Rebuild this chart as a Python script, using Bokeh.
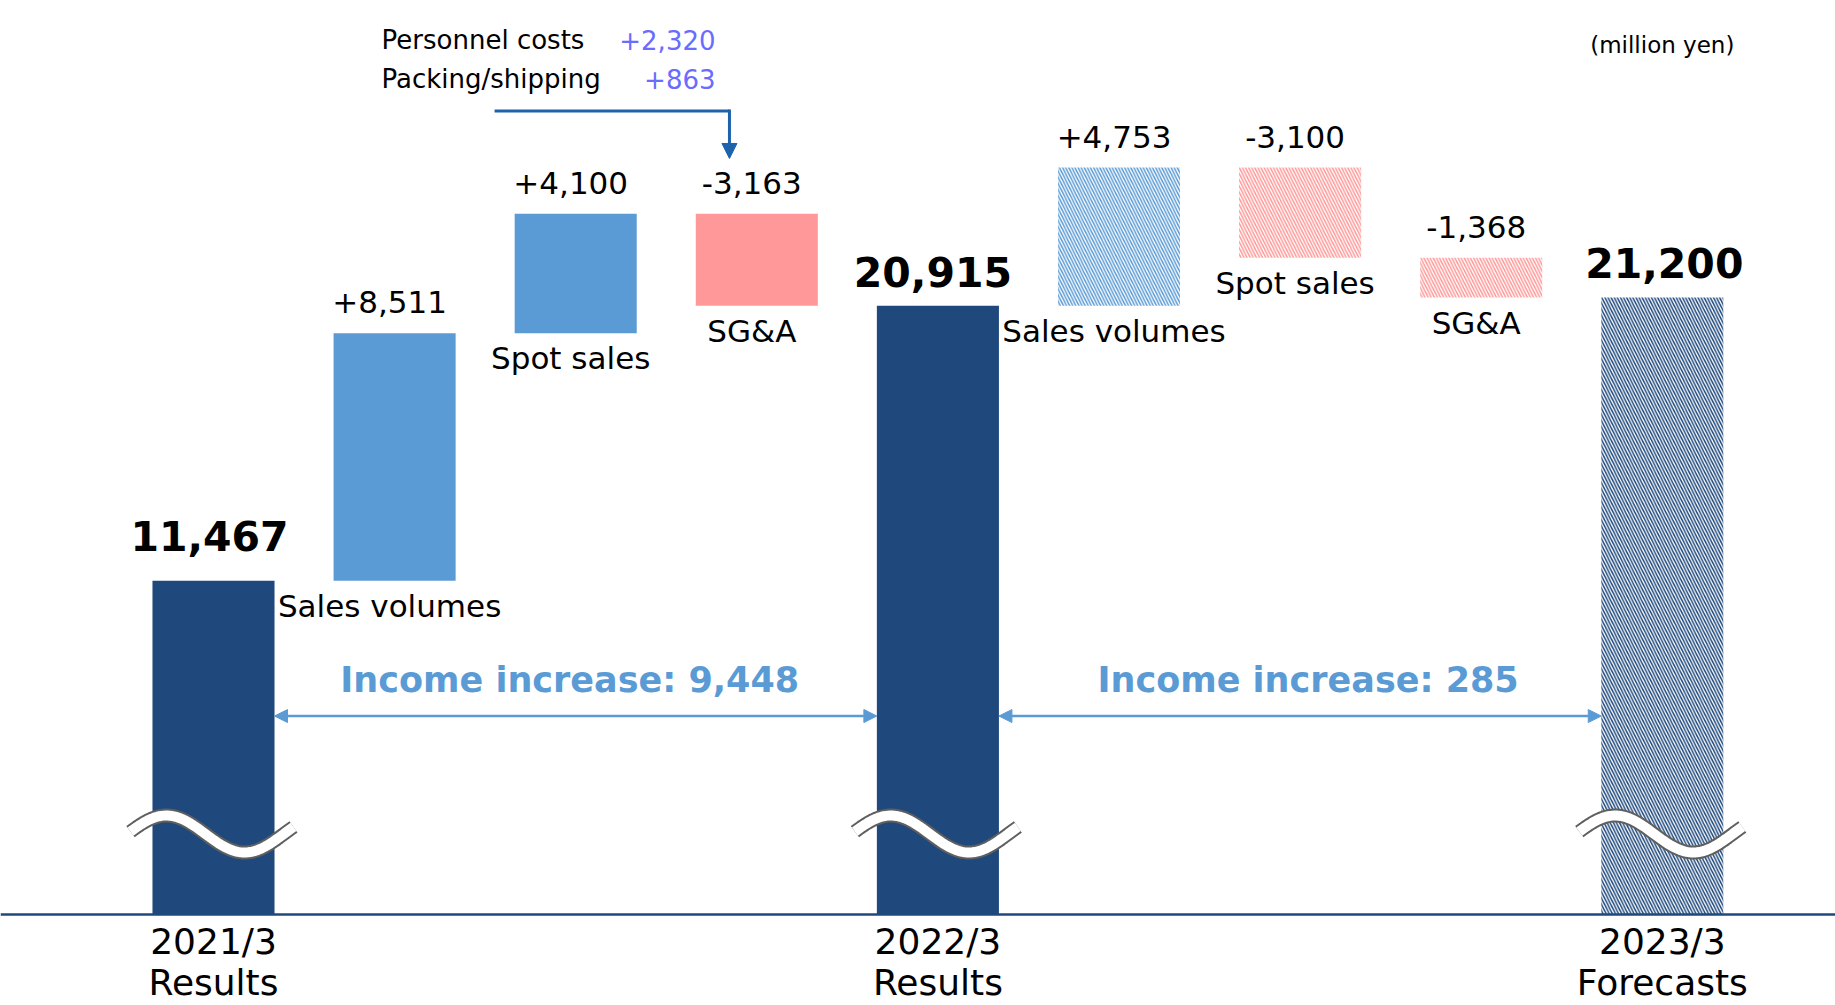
import numpy as np
from bokeh.plotting import figure
from bokeh.models import ColumnDataSource, Range1d, Arrow, NormalHead, Span
from bokeh.embed import file_html
from bokeh.resources import INLINE
from bokeh.core.properties import value

# ---------------- data ----------------
period_years = ["2021/3", "2022/3", "2023/3"]
period_kinds = ["Results", "Results", "Forecasts"]
total_values = [11467, 20915, 21200]
delta_names = ["Sales volumes", "Spot sales", "SG&A", "Sales volumes", "Spot sales", "SG&A"]
delta_values = [8511, 4100, -3163, 4753, -3100, -1368]
sga_items = ["Personnel costs", "Packing/shipping"]
sga_values = [2320, 863]
unit_label = "(million yen)"

# ---------------- styles ----------------
NAVY = "#1F497D"
BLUE = "#5B9BD5"
PINK = "#FF9999"
FONT = value("DejaVu Sans")

# ---------------- waterfall build ----------------
seq = [("T", 0), ("D", 0), ("D", 1), ("D", 2), ("T", 1), ("D", 3), ("D", 4), ("D", 5), ("T", 2)]
rows = []
running = 0
for i, (k, j) in enumerate(seq):
    if k == "T":
        running = total_values[j]
        rows.append(dict(x=i, bottom=0, top=total_values[j], color=NAVY, kind="T", j=j))
    else:
        v = delta_values[j]
        start = running
        running += v
        color = BLUE if v > 0 else PINK
        rows.append(dict(x=i, bottom=min(start, running), top=max(start, running), color=color, kind="D", j=j))

forecast_start = 5  # bars from this index on are plans (hatched)


def src(filter_fn):
    sel = [r for r in rows if filter_fn(r)]
    return ColumnDataSource(dict(
        x=[r["x"] for r in sel], bottom=[r["bottom"] for r in sel],
        top=[r["top"] for r in sel], color=[r["color"] for r in sel]))


W, H = 1835, 1005
PX = 0.0291      # px per unit
Y0 = 914.0       # page y of value 0
XS = 181.1       # px per category step
X0 = 213.0       # page x of first category
y_lo = (Y0 - H) / PX
y_hi = Y0 / PX

p = figure(width=W, height=H, x_range=Range1d(-X0 / XS, (W - X0) / XS), y_range=Range1d(y_lo, y_hi),
           output_backend="svg", toolbar_location=None, min_border=0,
           x_axis_location=None, y_axis_location=None, outline_line_color=None,
           background_fill_color="white", border_fill_color="white")
p.grid.visible = False

BW = 0.674
p.vbar(x="x", bottom="bottom", top="top", width=BW, fill_color="color", line_color=None,
       source=src(lambda r: r["x"] < forecast_start))
p.vbar(x="x", bottom="bottom", top="top", width=BW, fill_color="white", line_color=None,
       hatch_color="color", hatch_pattern="\\", hatch_scale=6.2, hatch_weight=1.5,
       source=src(lambda r: r["x"] >= forecast_start))

p.add_layout(Span(location=0, dimension="width", line_color=NAVY, line_width=2.5))

# break marks on total bars
t = np.linspace(0, 1, 80)
for r in rows:
    if r["kind"] != "T":
        continue
    xs = r["x"] + (-83 + 163 * t) / XS
    ypx = 833.5 - 18.5 * np.sin(2 * np.pi * t / 0.96 + 0.13)
    ys = (Y0 - ypx) / PX
    p.line(xs, ys, line_color="#5F5F5F", line_width=14, line_cap="butt")
    p.line(xs, ys, line_color="white", line_width=10, line_cap="butt")

# total labels
tot = [r for r in rows if r["kind"] == "T"]
p.text(x=[r["x"] for r in tot], y=[r["top"] for r in tot],
       text=[f"{total_values[r['j']]:,}" for r in tot],
       text_font=FONT, text_font_style="bold", text_font_size="41px",
       text_align="center", text_baseline="middle", y_offset=[-45, -34, -35],
       x_offset=[-4, -5, 2], text_color="black")

# delta labels
dl = [r for r in rows if r["kind"] == "D"]
p.text(x=[r["x"] for r in dl], y=[r["top"] for r in dl],
       text=[f"{delta_values[r['j']]:+,}" for r in dl],
       text_font=FONT, text_font_size="31px", text_align="center", text_baseline="middle",
       y_offset=-31, x_offset=-5, text_color="black")
p.text(x=[r["x"] for r in dl], y=[r["bottom"] for r in dl],
       text=[delta_names[r["j"]] for r in dl],
       text_font=FONT, text_font_size="31px", text_align="center", text_baseline="middle",
       y_offset=25, x_offset=-5, text_color="black")

# category labels
p.text(x=[r["x"] for r in tot], y=[0] * 3, text=period_years,
       text_font=FONT, text_font_size="36px", text_align="center", text_baseline="middle",
       y_offset=27, text_color="black")
p.text(x=[r["x"] for r in tot], y=[0] * 3, text=period_kinds,
       text_font=FONT, text_font_size="36px", text_align="center", text_baseline="middle",
       y_offset=68, text_color="black")

# income increase arrows
inc_y = 6820
lab_y = 8060
for a, b in [(0, 1), (1, 2)]:
    xa = tot[a]["x"] + BW / 2
    xb = tot[b]["x"] - BW / 2
    head = dict(size=13, fill_color=BLUE, line_color=BLUE)
    p.add_layout(Arrow(start=NormalHead(**head), end=NormalHead(**head),
                       x_start=xa, y_start=inc_y, x_end=xb, y_end=inc_y,
                       line_color=BLUE, line_width=2.5))
    diff = total_values[b] - total_values[a]
    p.text(x=[(xa + xb) / 2], y=[lab_y], text=[f"Income increase: {diff:,}"],
           text_font=FONT, text_font_style="bold", text_font_size="35px",
           text_align="center", text_baseline="middle", text_color=BLUE,
           x_offset=-6 if a == 0 else 8)

# SG&A breakdown note
note_y = [30050, 28710]
p.text(x=[0.928] * 2, y=note_y, text=sga_items, text_font=FONT, text_font_size="26px",
       text_align="left", text_baseline="middle", text_color="black")
p.text(x=[2.772] * 2, y=note_y, text=[f"{v:+,}" for v in sga_values], text_font=FONT,
       text_font_size="26px", text_align="right", text_baseline="middle", text_color="#6B6BFF")
ELB = "#1C62AC"
p.line(x=[1.552, 2.849], y=[27612, 27612], line_color=ELB, line_width=3)
p.add_layout(Arrow(end=NormalHead(size=15, fill_color=ELB, line_color=ELB),
                   x_start=2.849, y_start=27660, x_end=2.849, y_end=25980,
                   line_color=ELB, line_width=3))

# unit label
p.text(x=[8.0], y=[29880], text=[unit_label], text_font=FONT, text_font_size="23px",
       text_align="center", text_baseline="middle", text_color="black")

open("out.html", "w").write(file_html(p, INLINE))
